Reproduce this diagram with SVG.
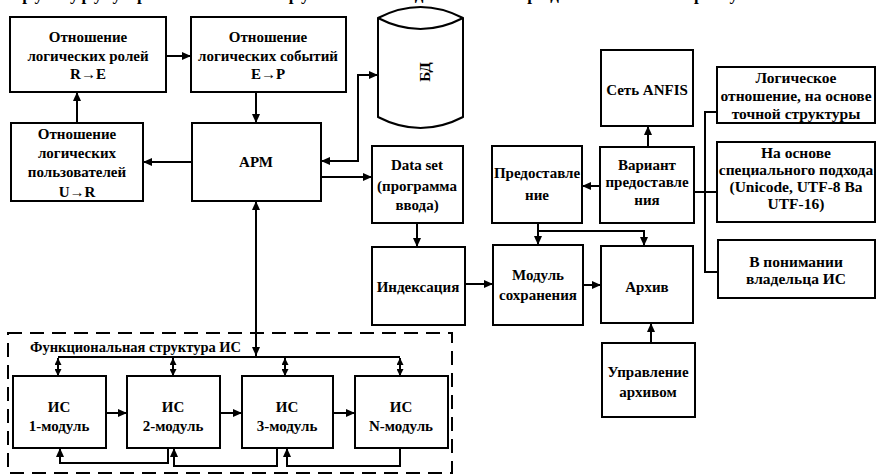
<svg xmlns="http://www.w3.org/2000/svg" width="878" height="476" viewBox="0 0 878 476">
<defs>
<marker id="ah" markerUnits="userSpaceOnUse" markerWidth="9" markerHeight="8" refX="9" refY="4" orient="auto-start-reverse">
<path d="M0,0 L9,4 L0,8 z" fill="#000"/>
</marker>
<marker id="as" markerUnits="userSpaceOnUse" markerWidth="7" markerHeight="7" refX="7" refY="3.5" orient="auto-start-reverse">
<path d="M0,0 L7,3.5 L0,7 z" fill="#000"/>
</marker>
<style>
.b{fill:#fff;stroke:#000;stroke-width:2}
.t{font-family:"Liberation Serif","Times New Roman",serif;font-weight:bold;font-size:15px;fill:#000;text-anchor:middle}
.r{font-size:15.5px}
.c{fill:none;stroke:#000;stroke-width:2}
.a{marker-end:url(#ah)}
.d{marker-start:url(#ah);marker-end:url(#ah)}
.s{marker-start:url(#as);marker-end:url(#as)}
</style>
</defs>
<rect width="878" height="476" fill="#fff"/>
<text x="0" y="0" textLength="800" style="font-family:'Liberation Serif',serif;font-weight:bold;font-size:17px">структуру управления обнаруженными данными представлена на рисунке 1.</text>

<g id="dashed-frame">
<rect x="8" y="333" width="444" height="140" fill="none" stroke="#000" stroke-width="2" stroke-dasharray="14 8"/>
<text x="30" y="352" class="t" style="text-anchor:start;font-size:14.5px">Функциональная структура ИС</text>
</g>

<g id="roles"><rect class="b" x="10" y="17" width="156" height="75"/>
<text class="t" x="88" y="42">Отношение</text><text class="t" x="88" y="61">логических ролей</text><text class="t" x="88" y="79">R→E</text></g>

<g id="events"><rect class="b" x="191" y="17" width="155" height="75"/>
<text class="t" x="268" y="42">Отношение</text><text class="t" x="268" y="61">логических событий</text><text class="t" x="268" y="79">E→P</text></g>

<g id="users"><rect class="b" x="11" y="123" width="132" height="78"/>
<text class="t" x="77" y="139">Отношение</text><text class="t" x="77" y="158">логических</text><text class="t" x="77" y="177">пользователей</text><text class="t" x="77" y="197">U→R</text></g>

<g id="arm"><rect class="b" x="192" y="123" width="129" height="78"/>
<text class="t" x="256" y="167">АРМ</text></g>

<g id="db">
<path d="M378,18 V117 Q420.5,139 463,117 V18 Q420.5,-4 378,18 Z" fill="#fff" stroke="#000" stroke-width="2"/>
<path d="M378,18 Q420.5,40 463,18" fill="none" stroke="#000" stroke-width="2"/>
<text class="t" x="0" y="0" transform="translate(430,72) rotate(-90)">БД</text>
</g>

<g id="dataset"><rect class="b" x="372" y="146" width="91" height="77"/>
<text class="t" x="417" y="170">Data set</text><text class="t" x="417" y="191">(программа</text><text class="t" x="417" y="210">ввода)</text></g>

<g id="index"><rect class="b" x="372" y="247" width="93" height="78"/>
<text class="t" x="418" y="292">Индексация</text></g>

<g id="save"><rect class="b" x="493" y="245" width="90" height="80"/>
<text class="t" x="538" y="280">Модуль</text><text class="t" x="538" y="300">сохранения</text></g>

<g id="archive"><rect class="b" x="601" y="246" width="92" height="77"/>
<text class="t" x="647" y="292">Архив</text></g>

<g id="archive-mgmt"><rect class="b" x="602" y="343" width="93" height="74"/>
<text class="t" x="648" y="377">Управление</text><text class="t" x="648" y="397">архивом</text></g>

<g id="provision"><rect class="b" x="492" y="146" width="90" height="77"/>
<text class="t" x="537" y="178">Предоставле</text><text class="t" x="537" y="200">ние</text></g>

<g id="variant"><rect class="b" x="600" y="147" width="94" height="76"/>
<text class="t" x="647" y="170">Вариант</text><text class="t" x="647" y="187">предоставле</text><text class="t" x="647" y="205">ния</text></g>

<g id="anfis"><rect class="b" x="601" y="50" width="92" height="76"/>
<text class="t" x="647" y="95">Сеть ANFIS</text></g>

<g id="r1"><rect class="b" x="717" y="67" width="158" height="56"/>
<text class="t r" x="796" y="83">Логическое</text><text class="t r" x="796" y="101">отношение, на основе</text><text class="t r" x="796" y="119">точной структуры</text></g>

<g id="r2"><rect class="b" x="717" y="142" width="158" height="80"/>
<text class="t r" x="796" y="158">На основе</text><text class="t r" x="796" y="175">специального подхода</text><text class="t r" x="796" y="192">(Unicode, UTF-8 Ва</text><text class="t r" x="796" y="209">UTF-16)</text></g>

<g id="r3"><rect class="b" x="718" y="240" width="157" height="58"/>
<text class="t r" x="796" y="267">В понимании</text><text class="t r" x="796" y="284">владельца ИС</text></g>

<g id="m1"><rect class="b" x="13" y="376" width="93" height="72"/>
<text class="t" x="59" y="412">ИС</text><text class="t" x="59" y="431">1-модуль</text></g>
<g id="m2"><rect class="b" x="127" y="376" width="93" height="72"/>
<text class="t" x="173" y="412">ИС</text><text class="t" x="173" y="431">2-модуль</text></g>
<g id="m3"><rect class="b" x="242" y="376" width="91" height="72"/>
<text class="t" x="287" y="412">ИС</text><text class="t" x="287" y="431">3-модуль</text></g>
<g id="mN"><rect class="b" x="355" y="376" width="93" height="72"/>
<text class="t" x="401" y="412">ИС</text><text class="t" x="401" y="431">N-модуль</text></g>

<g id="connectors">
<path class="c a" d="M166,56 H191"/>
<path class="c a" d="M256,92 V123"/>
<path class="c a" d="M77,123 V92"/>
<path class="c a" d="M192,162 H143"/>
<path class="c d" d="M321,161 H358 V75 H378"/>
<path class="c a" d="M321,177 H372"/>
<path class="c d" d="M256,201 V356"/>
<path class="c" d="M58,357 H400"/>
<path class="c s" d="M58,358 V376"/>
<path class="c s" d="M173,358 V376"/>
<path class="c s" d="M285,358 V376"/>
<path class="c s" d="M400,358 V376"/>
<path class="c a" d="M106,413 H127"/>
<path class="c a" d="M220,413 H242"/>
<path class="c a" d="M333,413 H355"/>
<path class="c a" d="M168,448 V463 H60 V448"/>
<path class="c a" d="M277,448 V466 H174 V448"/>
<path class="c a" d="M400,448 V466 H287 V448"/>
<path class="c a" d="M417,223 V247"/>
<path class="c a" d="M465,284 H493"/>
<path class="c a" d="M583,285 H601"/>
<path class="c a" d="M651,343 V323"/>
<path class="c a" d="M600,186 H582"/>
<path class="c a" d="M648,147 V126"/>
<path class="c a" d="M538,223 V245"/>
<path class="c a" d="M538,231 H644 V246"/>
<path class="c" d="M694,192 H717"/>
<path class="c" d="M717,112 H705 V272 H718"/>
</g>
</svg>
